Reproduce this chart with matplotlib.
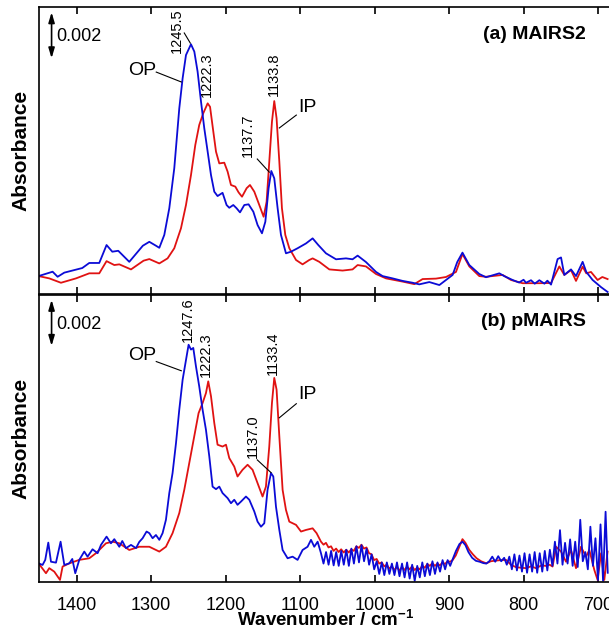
import matplotlib
matplotlib.use("Agg")
import matplotlib.pyplot as plt

plt.rcParams['font.family'] = ['Liberation Sans', 'DejaVu Sans']
plt.rcParams['mathtext.default'] = 'regular'

# absorbance values are in units of 0.001 (mAbs)
# (a) MAIRS2, OP spectrum (blue)
a_op = [(1451, 0.78), (1432.1, 0.97), (1425.4, 0.75), (1416.4, 0.93), (1392.3, 1.13), (1382.9, 1.35),
        (1369.5, 1.35), (1359.7, 2.13), (1352, 1.84), (1344, 1.88), (1329.2, 1.40), (1311, 2.10),
        (1302.3, 2.27), (1293.4, 2.10), (1288.9, 2.01), (1282.2, 2.57), (1275.5, 3.73), (1268.8, 5.47),
        (1262.1, 8.07), (1257.6, 9.38), (1253.1, 10.39), (1246.4, 10.86), (1241.9, 10.54),
        (1237.5, 9.67), (1232.9, 8.36), (1228.5, 7.20), (1224, 6.19), (1219.5, 5.17), (1215.1, 4.45),
        (1210.7, 4.26), (1204, 4.40), (1198.6, 3.87), (1195, 3.75), (1189.6, 3.87), (1185.2, 3.73),
        (1180.6, 3.55), (1174.8, 3.87), (1169.1, 3.90), (1162.7, 3.58), (1157, 3.00), (1151.1, 2.64),
        (1146.6, 3.14), (1142.2, 4.60), (1138.6, 5.35), (1134.6, 5.03), (1130.1, 3.73), (1125.6, 2.57),
        (1118.9, 1.77), (1112.2, 1.84), (1103.3, 1.99), (1092, 2.20), (1083.1, 2.42),
        (1075.5, 2.13), (1065.2, 1.77), (1051.7, 1.51), (1038.3, 1.55), (1029.5, 1.51), (1022.7, 1.67),
        (1011.5, 1.39), (998, 0.96), (989.2, 0.78), (975.8, 0.68), (962.3, 0.57), (948.9, 0.49),
        (940, 0.42), (926.5, 0.52), (913, 0.39), (895.2, 0.83), (889, 1.39), (882, 1.80), (872.8, 1.26),
        (859.4, 0.87), (850.4, 0.73), (832.5, 0.90), (826, 0.78), (814.7, 0.61), (806, 0.50), (800, 0.62),
        (796.7, 0.49), (790, 0.60), (785, 0.45), (778.8, 0.60), (772, 0.45), (768, 0.58), (763.1, 0.41),
        (754.3, 1.52), (749.7, 1.59), (745.3, 0.83), (736.3, 1.07), (729.6, 0.78), (720.7, 1.40),
        (715.8, 0.96), (707.3, 0.61), (696, 0.30), (687.2, 0.09)]

# (a) MAIRS2, IP spectrum (red)
a_ip = [(1451, 0.78), (1436.6, 0.68), (1420.9, 0.49), (1400.7, 0.68), (1382.9, 0.90), (1369.5, 0.90),
        (1359.7, 1.43), (1349.3, 1.26), (1342.6, 1.29), (1326.9, 1.07), (1310, 1.45), (1302.3, 1.52),
        (1288.9, 1.33), (1277.8, 1.55), (1268.8, 1.99), (1259.8, 2.86), (1253.1, 3.87), (1246.4, 5.17),
        (1240.6, 6.48), (1235.3, 7.35), (1229.9, 7.86), (1224, 8.29), (1220.8, 8.14), (1216.4, 7.06),
        (1212.8, 6.19), (1208.4, 5.68), (1201.7, 5.71), (1197.2, 5.32), (1192.7, 4.74), (1186.9, 4.67),
        (1182.5, 4.42), (1177.9, 4.23), (1171.7, 4.60), (1167.2, 4.74), (1161.4, 4.45), (1154.7, 3.87),
        (1148.9, 3.36), (1144.9, 4.01), (1141.3, 5.75), (1137.7, 7.49), (1134.6, 8.39), (1131.5, 7.64),
        (1127.8, 5.75), (1124.3, 3.73), (1119.8, 2.57), (1114.4, 1.99), (1105.4, 1.48), (1096.6, 1.29),
        (1087.6, 1.48), (1083.1, 1.55), (1074.2, 1.40),
        (1060.7, 1.07), (1042.9, 1.02), (1029.5, 1.07), (1022.7, 1.26), (1011.5, 1.20), (998, 0.87),
        (984.6, 0.68), (962.3, 0.54), (946.6, 0.43), (935.5, 0.65), (917.5, 0.67), (904.1, 0.74),
        (890.7, 0.96), (882, 1.74), (872.8, 1.20), (859.4, 0.78), (850.4, 0.75), (828.1, 0.83),
        (816.8, 0.61), (801.3, 0.47), (778.8, 0.47), (763.1, 0.48), (752, 1.20), (745.3, 0.83),
        (736.3, 1.04), (729.6, 0.57), (720.7, 1.19), (715.8, 0.90), (709.5, 0.96), (700.6, 0.61),
        (694.3, 0.74), (687.2, 0.65)]

# (b) pMAIRS, OP spectrum (blue)
b_op = [(1451, 0.81), (1445.6, 0.74), (1442, 0.96), (1437.9, 1.71), (1434.3, 0.88), (1427.6, 0.84),
        (1421.4, 1.75), (1416.4, 0.74), (1409.7, 0.81), (1405.7, 1.00), (1401.7, 0.38), (1396.3, 0.96),
        (1389.6, 1.32), (1385.2, 1.10), (1378.5, 1.42), (1371.7, 1.25), (1367.2, 1.61), (1359.7, 1.97),
        (1353.8, 1.68), (1349.3, 1.86), (1342.6, 1.53), (1338.6, 1.78), (1333.6, 1.47), (1326.9, 1.61),
        (1320.2, 1.47), (1315.8, 1.74), (1311.3, 1.90), (1306, 2.19), (1302.3, 2.12), (1297.9, 1.90),
        (1293.4, 2.04), (1288.9, 1.83), (1284.5, 2.12), (1280, 2.70), (1275.5, 3.86), (1271.1, 4.73),
        (1266.5, 6.03), (1262.1, 7.48), (1257.6, 8.78), (1253.1, 9.65), (1249.6, 10.30), (1246.4, 10.09),
        (1243.3, 10.16), (1239.7, 9.36), (1235.3, 8.49), (1230.8, 7.48), (1226.3, 6.61), (1221.8, 5.45),
        (1217.4, 4.14), (1212.8, 4.03), (1208.4, 4.14), (1204, 3.86), (1197.2, 3.64), (1192.7, 3.42),
        (1188.3, 3.57), (1183.9, 3.35), (1179.3, 3.49), (1172.6, 3.71), (1168.1, 3.57), (1161.4, 3.06),
        (1157, 2.62), (1152.4, 2.40), (1148, 2.55), (1143.6, 4.00), (1139, 4.73), (1135.9, 4.58),
        (1132.3, 3.27), (1127.8, 2.26), (1123.4, 1.39), (1116.7, 1.03), (1110, 1.10), (1103.3, 0.96),
        (1096.6, 1.39), (1089.9, 1.53), (1085.3, 1.83), (1080.9, 1.53),
        (1076.4, 1.75), (1071.9, 1.25), (1068.5, 0.80), (1065.1, 1.30), (1061.7, 0.75), (1058.3, 1.35),
        (1054.9, 0.72), (1051.5, 1.30), (1048.1, 0.70), (1044.7, 1.35), (1041.3, 0.75), (1037.9, 1.40),
        (1034.5, 0.70), (1031.1, 1.45), (1027.7, 0.80), (1024.3, 1.55), (1020.9, 0.85), (1017.5, 1.60),
        (1014.1, 0.90), (1010.7, 1.45), (1007.3, 0.75), (1003.9, 1.20), (1000.5, 0.55), (997.1, 0.90),
        (993.7, 0.35), (990.3, 0.85), (986.9, 0.30), (983.5, 0.85), (980.1, 0.35), (976.7, 0.80),
        (973.3, 0.30), (969.9, 0.85), (966.5, 0.25), (963.1, 0.80), (959.7, 0.20), (956.3, 0.85),
        (952.9, 0.15), (949.5, 0.75), (946.1, 0.05), (942.7, 0.70), (939.3, 0.20), (935.9, 0.85),
        (932.5, 0.25), (929.1, 0.80), (925.7, 0.30), (922.3, 0.90), (918.9, 0.35), (915.5, 0.85),
        (912.1, 0.45), (908.7, 0.95), (905.3, 0.55), (901.9, 0.95), (898.5, 0.70), (895, 1.00),
        (890.7, 1.35), (886, 1.65), (882, 1.75), (878, 1.60), (874, 1.30), (869, 1.05), (864, 0.92),
        (859, 0.88), (854, 0.82), (850, 0.80), (846, 0.90), (842, 1.10), (838, 0.88), (834, 1.12),
        (830, 0.90), (826, 1.05), (822.5, 0.75), (819.1, 1.10), (815.7, 0.55), (812.3, 1.20),
        (808.9, 0.50), (805.5, 1.15), (802.1, 0.45), (798.7, 1.25), (795.3, 0.40), (791.9, 1.20),
        (788.5, 0.45), (785.1, 1.30), (781.7, 0.40), (778.3, 1.25), (774.9, 0.45), (771.5, 1.35),
        (768.1, 0.50), (764.7, 1.40), (761.3, 0.70), (757.9, 1.75), (754.5, 0.80), (751.1, 2.25),
        (747.7, 0.75), (744.3, 1.70), (740.9, 0.80), (737.5, 1.85), (734.1, 0.70), (730.7, 1.75),
        (727.3, 0.65), (723.9, 2.70), (720.5, 0.90), (717.1, 1.30), (713.7, 0.55), (710.3, 2.40),
        (706.9, 0.70), (703.5, 1.90), (700.1, 0.09), (696.7, 2.50), (693.3, 0.05), (689.9, 3.05),
        (687.0, 0.40)]

# (b) pMAIRS, IP spectrum (red)
b_ip = [(1451, 0.81), (1441, 0.38), (1436.6, 0.60), (1429.9, 0.45), (1422.2, 0.09), (1418.7, 0.67),
        (1409.7, 0.81), (1396.3, 0.96), (1382.9, 1.03), (1373.9, 1.25), (1360.5, 1.68), (1351.6, 1.75),
        (1342.6, 1.68), (1329.2, 1.39), (1315.8, 1.53), (1302.3, 1.53), (1288.9, 1.32), (1280, 1.53),
        (1271.1, 2.12), (1262.1, 2.99), (1255.4, 4.00), (1248.7, 5.16), (1242, 6.32), (1236.2, 7.33),
        (1230.8, 7.77), (1226.3, 8.20), (1223.2, 8.71), (1219.5, 8.06), (1215.1, 6.90), (1210.7, 5.96),
        (1204, 5.88), (1199.4, 5.96), (1195, 5.38), (1188.3, 5.01), (1183.9, 4.58), (1177.2, 4.87),
        (1170.4, 5.09), (1163.7, 4.87), (1157, 4.29), (1150.3, 3.71), (1145.8, 4.14), (1141.3, 5.88),
        (1137.7, 7.77), (1134.6, 8.86), (1131.5, 8.35), (1127.8, 6.32), (1123.4, 4.00), (1118.9, 3.13),
        (1114.4, 2.62), (1105.4, 2.48), (1098.7, 2.19), (1092, 2.26),
        (1083.1, 2.33), (1077.8, 2.12), (1071.9, 1.75), (1068.5, 1.62), (1065.2, 1.70), (1061.8, 1.50),
        (1058.4, 1.55), (1055, 1.35), (1051.6, 1.45), (1048.2, 1.30), (1044.8, 1.42), (1041.4, 1.28),
        (1038, 1.40), (1034.6, 1.28), (1031.2, 1.42), (1027.8, 1.35), (1024.4, 1.55), (1021, 1.48),
        (1017.6, 1.62), (1014.2, 1.45), (1010.8, 1.50), (1007.4, 1.25), (1004, 1.20), (1000.6, 0.95),
        (997.2, 1.00), (993.8, 0.80), (990.4, 0.85), (987, 0.68), (983.6, 0.75), (980.2, 0.58),
        (976.8, 0.68), (973.4, 0.52), (970, 0.65), (966.6, 0.50), (963.2, 0.65), (959.8, 0.52),
        (956.4, 0.66), (953, 0.55), (949.6, 0.68), (946.2, 0.52), (942.8, 0.62), (939.4, 0.55),
        (936, 0.70), (932.6, 0.62), (929.2, 0.78), (925.8, 0.70), (922.4, 0.82), (919, 0.70),
        (915.6, 0.80), (912.2, 0.72), (908.8, 0.85), (905.4, 0.78), (902, 0.90), (898.6, 0.88),
        (895.2, 0.95), (891, 1.15), (886, 1.55), (882, 1.86), (878, 1.70), (873, 1.40), (868, 1.20),
        (863, 1.03), (857, 0.90), (850, 0.81), (844, 0.90), (837, 0.93), (830, 0.95), (823.5, 0.96),
        (817, 0.75), (810, 0.64), (803, 0.62), (796.7, 0.60), (790, 0.68), (783.3, 0.60), (776, 0.72),
        (770, 0.70), (765, 0.75), (761, 0.67), (756.4, 1.53), (749.7, 1.32), (743, 0.88), (736.3, 1.39),
        (729.6, 0.60), (722.9, 1.53), (716.2, 1.10), (711.7, 1.39), (705, 0.52), (700.6, 0.09),
        (696, 1.25), (691.6, 0.09), (687.2, 1.32)]

titles = ["(a) MAIRS2", "(b) pMAIRS"]
# peak labels: text, x, y (bottom of rotated text)
peaks_a = [("1245.5", 1264.8, 10.48), ("1222.3", 1224.5, 8.55), ("1133.8", 1134.6, 8.6), ("1137.7", 1169.5, 5.96)]
peaks_b = [("1247.6", 1250.7, 10.43), ("1222.3", 1225.8, 8.91), ("1133.4", 1135.9, 9.0), ("1137.0", 1162.7, 5.39)]
# leader lines (x0, y0, x1, y1)
leaders_a = [(1255.4, 11.35, 1247.3, 10.91), (1157.4, 5.87, 1141.3, 5.30),
             (1293, 9.65, 1259.4, 9.22), (1105, 7.78, 1127.8, 7.22)]
leaders_b = [(1157.4, 5.30, 1139, 4.75), (1293, 9.57, 1259.4, 9.17), (1105, 7.74, 1127.8, 7.13)]
op_pos = [(1311.7, 9.70), (1311.7, 9.83)]
ip_pos = [(1090.3, 8.09), (1090.3, 8.13)]

blue = '#0b0bd6'
red = '#e01212'

fig = plt.figure(figsize=(6.09, 6.30), dpi=100)
ax1 = fig.add_axes([0.0645, 0.5333, 0.942, 0.4556])
ax2 = fig.add_axes([0.0645, 0.0762, 0.942, 0.4563])

panels = [(ax1, a_op, a_ip, peaks_a, leaders_a), (ax2, b_op, b_ip, peaks_b, leaders_b)]
for i, (ax, op, ip, peaks, leaders) in enumerate(panels):
    ax.plot([p[0] for p in ip], [p[1] for p in ip], color=red, lw=1.3)
    ax.plot([p[0] for p in op], [p[1] for p in op], color=blue, lw=1.3)
    ax.set_xlim(1450, 680)
    ax.set_ylim(0, 12.48)
    ax.set_yticks([])
    ax.set_xticks([1400, 1300, 1200, 1100, 1000, 900, 800, 700])
    ax.tick_params(axis='x', direction='in', top=True, bottom=True, length=5, width=1.2,
                   labelsize=13, pad=11)
    for s in ax.spines.values():
        s.set_linewidth(1.2)
    ax.set_ylabel("Absorbance", fontsize=15, fontweight='bold', labelpad=6)

    # scale bar 0.002
    ax.annotate("", xy=(1433.5, 12.25), xytext=(1433.5, 10.25),
                arrowprops=dict(arrowstyle='<|-|>,head_length=0.6,head_width=0.18',
                                color='k', lw=1.2, shrinkA=0, shrinkB=0))
    ax.text(1427.5, 11.2, "0.002", fontsize=13, ha='left', va='center')

    for txt, x, y in peaks:
        ax.text(x, y, txt, rotation=90, fontsize=10.5, ha='center', va='bottom')
    for x0, y0, x1, y1 in leaders:
        ax.plot([x0, x1], [y0, y1], color='k', lw=0.8)
    ax.text(op_pos[i][0], op_pos[i][1], "OP", fontsize=14, ha='center', va='center')
    ax.text(ip_pos[i][0], ip_pos[i][1], "IP", fontsize=14, ha='center', va='center')
    ax.text(0.952, 0.905, titles[i], transform=ax.transAxes, fontsize=14,
            fontweight='bold', ha='right', va='center')

ax1.tick_params(axis='x', labelbottom=False)
ax2.set_xlabel("Wavenumber / cm$^{-1}$", fontsize=13.5, fontweight='bold')
ax2.xaxis.set_label_coords(0.5, -0.098)

fig.savefig("out.png", dpi=100)
